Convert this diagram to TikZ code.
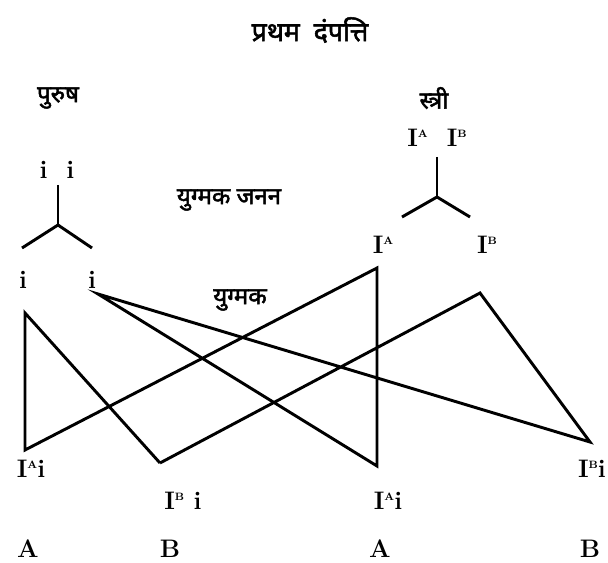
\documentclass[tikz,border=0pt]{standalone}
\usepackage{fontspec}
\newfontfamily\deva[Script=Devanagari, FakeBold=2]{Noto Sans}
\usetikzlibrary{positioning}
\newcommand{\alA}{I\raisebox{.85ex}{\fontsize{8}{8}\selectfont A}}
\newcommand{\alB}{I\raisebox{.85ex}{\fontsize{8}{8}\selectfont B}}

\begin{document}
\begin{tikzpicture}[
  x=0.75pt, y=-0.75pt,
  lbl/.style={inner sep=0pt, font=\fontsize{19}{21}\selectfont\bfseries},
  hin/.style={inner sep=0pt, font=\deva\fontsize{18}{20}\selectfont},
  ln/.style={line width=2.2pt, line join=miter}
]
\useasboundingbox (0,0) rectangle (608,563);
% headings
\node[hin, font=\deva\fontsize{20}{22}\selectfont] (title) at (310,30) {प्रथम\ \ दंपत्ति};
\node[hin] (purush) at (58,98) {पुरुष};
\node[hin] (stri) at (434,98) {स्त्री};
\node[hin] (jnn) at (229,200) {युग्मक जनन};
\node[hin] (yug) at (240,300) {युग्मक};

% male side
\node[lbl] (mii) at (57,170) {i\ \ i};
\node[lbl] (mi1) at (23,280) {i};
\node[lbl] (mi2) at (92,280) {i};
\coordinate (mtop) at (58,185);
\coordinate (mj) at (58,225);
\coordinate (ml) at (22,248);
\coordinate (mr) at (92,248);
\draw[ln] (mtop) -- (mj);
\draw[ln] (ml) -- (mj) -- (mr);

% female side
\node[lbl] (fii) at (437,138) {\alA\ \ \alB};
\node[lbl] (fa) at (383,245) {\alA};
\node[lbl] (fb) at (487,245) {\alB};
\coordinate (ftop) at (437,157);
\coordinate (fj) at (437,197);
\coordinate (fl) at (402,217);
\coordinate (fr) at (470,217);
\draw[ln] (ftop) -- (fj);
\draw[ln] (fl) -- (fj) -- (fr);

% offspring
\node[lbl] (c1) at (31,469) {\alA i};
\node[lbl] (c2) at (183,501) {\alB\ i};
\node[lbl] (c3) at (388,501) {\alA i};
\node[lbl] (c4) at (592,469) {\alB i};
\node[lbl] (b1) at (28,549) {A};
\node[lbl] (b2) at (170,549) {B};
\node[lbl] (b3) at (380,549) {A};
\node[lbl] (b4) at (590,549) {B};

% crossing lines
\coordinate (p1) at (25,313);
\coordinate (p2) at (25,450);
\coordinate (p3) at (160,463);
\coordinate (p4) at (377,268);
\coordinate (p5) at (377,466);
\coordinate (p6) at (480,293);
\coordinate (p7) at (590,442);
\coordinate (g2) at (98,294);
\draw[ln] (p3) -- (p1) -- (p2) -- (p4) -- (p5) -- (g2) -- (p7) -- (p6) -- (p3);
\end{tikzpicture}
\end{document}
